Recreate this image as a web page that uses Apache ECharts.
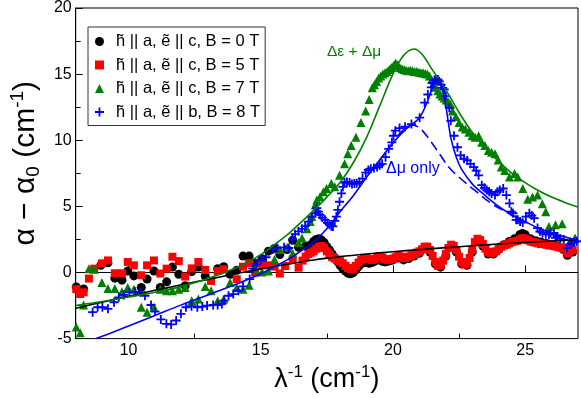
<!DOCTYPE html>
<html>
<head>
<meta charset="utf-8">
<script src="https://cdn.jsdelivr.net/npm/echarts@6/dist/echarts.min.js"></script>
<style>
  html, body { margin: 0; padding: 0; background: #fff; }
  #chart { width: 581px; height: 398px; }
</style>
</head>
<body>
<div id="chart"></div>
<script>
// tick positions on the wavenumber axis
const xMajorTicks = [10, 15, 20, 25];
const xMinorTicks = [12.5, 17.5, 22.5];

const seriesNames = [
  'h\u0303 || a, \u1ebd || c, B = 0 T',
  'h\u0303 || a, \u1ebd || c, B = 5 T',
  'h\u0303 || a, \u1ebd || c, B = 7 T',
  'h\u0303 || a, \u1ebd || b, B = 8 T',
];

// B = 0 T (black circles)
const field0 = [
  [8.02, -1.09], [8.3, -1.25], [8.95, 0.54], [9.22, 0.74], [9.48, -0.43], [9.75, -0.58],
  [9.97, 0.11], [10.2, -0.26], [10.48, -1.13], [10.7, -0.5], [10.96, 0.11], [11.2, -1.13],
  [11.44, -0.71], [11.66, 0.41], [11.9, -0.13], [12.14, -1.0], [12.39, 0.07], [12.64, 0.41],
  [12.9, -0.26], [13.37, 0.29], [13.6, 0.44], [13.84, -0.13], [14.09, 0.16], [14.33, 1.24],
  [14.56, 1.24], [14.79, 0.69], [15.05, 1.04], [15.29, 1.61], [15.52, 1.81], [15.72, 1.36],
  [16.0, 1.74], [16.21, 2.43], [16.43, 1.91], [16.7, 2.0],
  [16.9, 2.1], [17.0, 2.35], [17.1, 2.5], [17.2, 2.55], [17.3, 2.45], [17.4, 2.25], [17.5, 1.95],
  [17.6, 1.7], [17.7, 1.4], [17.8, 1.1], [17.9, 0.85], [18.0, 0.55], [18.1, 0.3], [18.2, 0.1],
  [18.3, -0.05], [18.4, -0.1], [18.5, 0.0], [18.6, 0.2], [18.7, 0.45], [18.8, 0.65], [18.9, 0.75],
  [19.0, 0.75], [19.1, 0.7], [19.2, 0.75], [19.3, 0.85], [19.4, 0.95], [19.5, 0.95], [19.6, 0.85],
  [19.7, 0.8], [19.8, 0.85], [19.9, 0.9], [20.0, 0.95], [20.2, 1.1], [20.4, 0.95], [20.6, 1.05],
  [20.8, 1.25], [21.0, 1.45], [21.2, 1.8], [21.4, 1.55], [21.6, 0.65], [21.8, 0.4], [22.0, 1.25],
  [22.2, 1.95], [22.4, 1.55], [22.6, 0.65], [22.8, 0.55], [23.0, 1.55], [23.2, 2.4], [23.4, 2.0],
  [23.6, 1.4], [23.8, 1.4], [24.0, 1.75], [24.2, 2.1], [24.4, 2.35], [24.6, 2.55], [24.8, 2.85],
  [24.9, 2.95], [25.0, 2.85], [25.2, 2.55], [25.4, 2.4], [25.6, 2.3], [25.8, 2.2], [26.0, 2.1],
  [26.2, 2.0], [26.4, 1.8], [26.6, 1.3], [26.8, 1.55],
];

// B = 5 T (red squares)
const field5 = [
  [8.02, -1.26], [8.17, -1.63], [8.3, -1.5], [8.5, -0.46], [8.7, 0.29], [8.99, 0.69], [9.22, 0.91],
  [9.48, -0.06], [9.75, -0.06], [9.97, 0.79], [10.2, 0.54], [10.48, -0.21], [10.7, 0.54],
  [10.96, 0.91], [11.2, -0.08], [11.44, 0.29], [11.66, 1.19], [11.9, 0.86], [12.14, -0.31],
  [12.39, 0.31], [12.64, 0.79], [12.9, 0.19], [13.12, -0.64], [13.37, 0.11], [13.6, 0.24],
  [14.09, -0.51], [14.33, 0.44], [14.56, 0.69], [14.79, -0.01], [15.05, 0.54], [15.29, 0.54],
  [15.52, 0.44], [15.72, -0.08], [15.92, 0.49], [16.21, 0.99], [16.43, 0.36], [16.58, 0.9],
  [16.7, 1.2], [16.8, 1.4], [16.9, 1.5], [17.0, 1.6], [17.1, 1.8], [17.2, 1.95], [17.3, 2.0],
  [17.4, 1.85], [17.5, 1.6], [17.6, 1.35], [17.7, 1.15], [17.8, 1.05], [17.9, 0.95], [18.0, 0.85],
  [18.1, 0.7], [18.2, 0.5], [18.3, 0.35], [18.4, 0.25], [18.5, 0.25], [18.6, 0.5], [18.7, 0.75],
  [18.8, 0.95], [18.9, 1.1], [19.0, 1.1], [19.1, 1.0], [19.2, 0.95], [19.3, 1.0], [19.4, 1.15],
  [19.5, 1.25], [19.6, 1.15], [19.7, 1.0], [19.8, 0.95], [19.9, 1.0], [20.0, 1.05], [20.1, 1.15],
  [20.2, 1.25], [20.3, 1.2], [20.4, 1.1], [20.5, 1.1], [20.6, 1.2], [20.7, 1.3], [20.8, 1.4],
  [20.9, 1.5], [21.0, 1.6], [21.1, 1.75], [21.2, 1.95], [21.3, 1.95], [21.4, 1.7], [21.5, 1.25],
  [21.6, 0.8], [21.7, 0.5], [21.8, 0.55], [21.9, 0.9], [22.0, 1.4], [22.1, 1.85], [22.2, 2.1],
  [22.3, 2.0], [22.4, 1.7], [22.5, 1.2], [22.6, 0.8], [22.7, 0.6], [22.8, 0.7], [22.9, 1.1],
  [23.0, 1.7], [23.1, 2.3], [23.2, 2.55], [23.3, 2.45], [23.4, 2.15], [23.5, 1.8], [23.6, 1.55],
  [23.7, 1.45], [23.8, 1.5], [23.9, 1.6], [24.0, 1.8], [24.1, 1.95], [24.2, 2.05], [24.3, 2.1],
  [24.4, 2.2], [24.5, 2.3], [24.6, 2.35], [24.7, 2.4], [24.8, 2.5], [24.9, 2.6], [25.0, 2.55],
  [25.1, 2.45], [25.2, 2.35], [25.3, 2.3], [25.4, 2.25], [25.5, 2.2], [25.6, 2.15], [25.7, 2.15],
  [25.8, 2.1], [25.9, 2.05], [26.0, 2.05], [26.1, 2.0], [26.2, 1.95], [26.3, 1.9], [26.4, 1.85],
  [26.5, 1.7], [26.6, 1.45], [26.7, 1.6], [26.8, 1.7],
];

// B = 7 T (green triangles)
const field7 = [
  [8.02, -4.13], [8.17, -4.55], [8.3, -2.46], [8.5, 0.29], [8.7, 0.24], [8.99, -0.76], [9.22, -1.21],
  [9.48, -1.21], [9.75, -1.46], [9.97, -1.13], [10.2, -1.26], [10.48, -2.63], [10.7, -3.0],
  [10.96, -2.63], [11.2, -1.26], [11.44, -1.38], [11.66, -1.38], [11.9, -1.26], [12.14, -1.13],
  [12.39, -2.13], [12.64, -2.0], [12.9, -1.06], [13.12, -1.38], [13.37, -2.13], [13.6, -2.0],
  [13.84, -0.76], [14.09, -1.13], [14.33, -1.26], [14.56, -0.96], [14.79, 0.29], [15.05, 0.04],
  [15.29, 0.11], [15.52, 0.99], [15.72, 1.74], [16.0, 1.91], [16.21, 1.44], [16.43, 2.24],
  [16.56, 2.61], [16.75, 3.3], [16.87, 3.85], [16.93, 4.23], [17.06, 5.1], [17.12, 5.48],
  [17.24, 5.73], [17.37, 6.1], [17.49, 6.35], [17.67, 6.73], [17.8, 6.48], [17.98, 7.35],
  [18.17, 8.22], [18.29, 8.97], [18.42, 9.6], [18.6, 10.22], [18.79, 11.34], [18.97, 12.22],
  [19.1, 13.09], [19.22, 13.96], [19.3, 14.2], [19.38, 14.45], [19.46, 14.7], [19.54, 14.85],
  [19.62, 15.0], [19.7, 15.1], [19.78, 15.2], [19.86, 15.35], [19.94, 15.5], [20.02, 15.65],
  [20.1, 15.85], [20.18, 15.7], [20.26, 15.5], [20.34, 15.4], [20.42, 15.35], [20.5, 15.3],
  [20.58, 15.25], [20.66, 15.3], [20.74, 15.25], [20.82, 15.2], [20.9, 15.2], [20.98, 15.15],
  [21.06, 15.1], [21.14, 15.1], [21.22, 15.05], [21.3, 15.0], [21.38, 14.85], [21.46, 14.6],
  [21.54, 14.3], [21.62, 14.0], [21.7, 13.75], [21.78, 13.5], [21.86, 13.35], [21.94, 13.2],
  [22.02, 13.05], [22.1, 12.9], [22.18, 12.7], [22.25, 12.22], [22.38, 11.8], [22.5, 11.34],
  [22.62, 11.0], [22.74, 10.85], [22.87, 10.6], [22.99, 10.34], [23.11, 10.22], [23.24, 10.34],
  [23.36, 9.84], [23.48, 9.6], [23.61, 9.22], [23.73, 9.1], [23.86, 8.97], [23.98, 8.5],
  [24.1, 7.97], [24.23, 7.72], [24.41, 7.22], [24.6, 7.48], [24.72, 7.22], [24.91, 6.35],
  [25.1, 5.53], [25.28, 5.7], [25.47, 5.85], [25.65, 5.2], [25.78, 4.6], [25.9, 3.48],
  [26.15, 3.61], [26.4, 3.68], [26.7, 2.36], [26.89, 2.61],
];

// B = 8 T, e || b (blue pluses)
const field8 = [
  [8.64, -3.0], [8.83, -2.63], [9.01, -2.63], [9.22, -2.75], [9.45, -2.25], [9.63, -1.88],
  [9.82, -1.7], [10.03, -1.5], [10.25, -1.46], [10.44, -1.5], [10.62, -1.76], [10.85, -2.46],
  [11.0, -2.96], [11.22, -3.55], [11.43, -3.88], [11.61, -3.93], [11.8, -3.63], [11.98, -3.13],
  [12.17, -2.63], [12.38, -2.55], [12.6, -2.63], [12.79, -2.58], [12.97, -2.5], [13.2, -2.46],
  [13.37, -2.46], [13.53, -2.38], [13.61, -2.13], [13.78, -1.76], [13.96, -1.63], [14.15, -1.38],
  [14.33, -1.05], [14.58, -0.5], [14.7, 0.29], [14.83, 0.61], [15.01, 0.94], [15.2, 1.15],
  [15.45, 1.74], [15.63, 1.86], [15.88, 1.9], [16.06, 1.85], [16.2, 2.5], [16.3, 2.9],
  [16.43, 3.11], [16.56, 3.3], [16.68, 3.5], [16.81, 3.85], [16.93, 4.23], [17.06, 4.48],
  [17.12, 4.86], [17.18, 4.6], [17.24, 4.36], [17.33, 4.15], [17.43, 3.98], [17.52, 3.75],
  [17.6, 3.61], [17.67, 3.5], [17.73, 3.48], [17.8, 3.9], [17.86, 4.23], [17.92, 4.73],
  [17.98, 5.35], [18.05, 5.98], [18.11, 6.48], [18.17, 6.8], [18.26, 6.85], [18.36, 6.8],
  [18.45, 6.7], [18.54, 6.73], [18.63, 6.75], [18.73, 6.85], [18.85, 7.1], [18.97, 7.55],
  [19.07, 7.75], [19.16, 7.85], [19.28, 7.9], [19.4, 7.97], [19.5, 8.1], [19.59, 8.22],
  [19.72, 8.72], [19.84, 9.35], [19.96, 9.84], [20.02, 10.34], [20.09, 10.72], [20.25, 10.92],
  [20.46, 11.02], [20.7, 11.22], [21.01, 11.71], [21.2, 12.84], [21.32, 13.46], [21.45, 14.0],
  [21.51, 14.33], [21.57, 14.55], [21.63, 14.59], [21.7, 14.6], [21.75, 14.46], [21.82, 14.2],
  [21.88, 13.96], [21.94, 13.84], [22.0, 13.34], [22.13, 12.46], [22.19, 11.47], [22.31, 10.34],
  [22.44, 9.47], [22.56, 8.85], [22.69, 8.6], [22.81, 8.47], [22.93, 8.22], [23.06, 7.97],
  [23.15, 7.7], [23.24, 7.35], [23.36, 6.6], [23.46, 6.4], [23.55, 6.23], [23.64, 6.1],
  [23.73, 5.98], [23.86, 5.85], [23.95, 6.1], [24.04, 6.23], [24.17, 6.35], [24.29, 5.85],
  [24.41, 5.23], [24.48, 4.6], [24.54, 4.48], [24.66, 3.98], [24.72, 3.98], [24.81, 3.85],
  [24.91, 3.78], [25.03, 4.23], [25.16, 4.48], [25.25, 4.3], [25.34, 4.11], [25.47, 3.36],
  [25.56, 3.1], [25.66, 2.99], [25.78, 2.9], [25.9, 2.86], [25.96, 2.99], [26.09, 2.99],
  [26.15, 2.61], [26.21, 2.73], [26.33, 2.55], [26.46, 2.49], [26.58, 1.86], [26.68, 2.1],
  [26.77, 2.24], [26.86, 2.3], [26.95, 2.36],
];

// model curves
const fitBackground = [
  [8, -2.7], [9, -2.25], [10, -1.8], [11, -1.35], [12, -0.93], [13, -0.52], [14, -0.12], [15, 0.27],
  [16, 0.62], [17, 0.95], [18, 1.2], [19, 1.4], [20, 1.57], [21, 1.73], [22, 1.88], [23, 2.02],
  [24, 2.15], [25, 2.27], [26, 2.38], [27, 2.48],
];
const fitEpsMu = [
  [8, -2.5], [9, -2.2], [10, -1.85], [11, -1.5], [12, -1.05], [13, -0.45], [14, 0.3], [15, 1.35],
  [16, 2.85], [16.5, 3.75], [17, 4.7], [17.5, 5.7], [18, 6.8], [18.5, 8.3], [19, 10.2], [19.5, 12.6],
  [20, 15.0], [20.4, 16.4], [20.8, 16.9], [21.1, 16.5], [21.5, 15.3], [22, 13.8], [22.5, 12.1],
  [23, 10.6], [23.5, 9.4], [24, 8.4], [24.5, 7.5], [25, 6.8], [25.5, 6.2], [26, 5.7], [26.5, 5.3],
  [27, 4.95],
];
const fitBlue = [
  [8.77, -5.0], [9.5, -4.45], [10, -4.05], [11, -3.25], [12, -2.45], [13, -1.7], [14, -0.95],
  [15, -0.1], [16, 0.95], [16.5, 1.6], [17, 2.3], [17.5, 3.3], [18, 4.6], [18.5, 5.8], [19, 7.2],
  [19.5, 8.5], [20, 9.8], [20.5, 10.85], [21, 11.7], [21.3, 12.9], [21.5, 14.0], [21.7, 14.6],
  [21.85, 14.1], [22.0, 12.6], [22.2, 10.1], [22.4, 8.7], [22.6, 7.8], [23, 6.7], [23.5, 5.8],
  [24, 5.0], [24.5, 4.35], [25, 3.85], [25.5, 3.35], [26, 3.0], [26.5, 2.7], [27, 2.4],
];
const fitMuOnly = [
  [19.5, 8.5], [20, 9.8], [20.3, 10.6], [20.7, 11.15], [21.0, 10.95], [21.4, 10.0], [21.75, 9.0],
  [22.1, 8.0], [22.5, 7.2], [23.1, 6.2], [23.7, 5.25], [24.3, 4.55], [24.8, 4.05],
];

const FONT = '"Liberation Sans", Arial, sans-serif';
const PLUS = 'path://M4,0h2v4h4v2h-4v4h-2v-4h-4v-2h4z';

const chart = echarts.init(document.getElementById('chart'), null, { renderer: 'canvas' });

const scatter = (name, data, symbol, size, color) => ({
  name,
  type: 'scatter',
  data,
  symbol,
  symbolSize: size,
  itemStyle: { color, opacity: 1 },
  silent: true,
  z: 2,
});

const curve = (data, color, type) => ({
  type: 'line',
  data,
  showSymbol: false,
  smooth: 0.35,
  lineStyle: { color, width: 1.6, type: type || 'solid' },
  silent: true,
  z: 3,
});

const richText = (main, small) => ({
  m: { fontSize: main, lineHeight: main + 5, color: '#000', fontFamily: FONT, verticalAlign: 'middle' },
  s: { fontSize: small, lineHeight: small, color: '#000', fontFamily: FONT, verticalAlign: 'top' },
  b: { fontSize: small, lineHeight: small, color: '#000', fontFamily: FONT, verticalAlign: 'bottom' },
});

chart.setOption({
  animation: false,
  backgroundColor: '#fff',
  textStyle: { fontFamily: FONT },
  grid: {
    left: 66, right: 3, top: 6, bottom: 58,
    show: true, borderColor: '#000', borderWidth: 1,
  },
  legend: {
    data: seriesNames,
    orient: 'vertical',
    left: 88,
    top: 27,
    padding: [6, 5, 5, 7],
    itemGap: 6.5,
    itemWidth: 9,
    itemHeight: 9,
    borderColor: '#333',
    borderWidth: 1,
    borderRadius: 0,
    selectedMode: false,
    textStyle: { fontSize: 16.5, color: '#000', fontFamily: FONT, padding: [0, 0, 0, 7] },
  },
  xAxis: [
    {
      type: 'value',
      min: 8,
      max: 27,
      name: '{m|\u03bb}{s|-1}{m| (cm}{s|-1}{m|)}',
      nameLocation: 'middle',
      nameGap: 23,
      nameTextStyle: { rich: richText(27, 17) },
      axisLine: { lineStyle: { color: '#000', width: 1 } },
      axisTick: { inside: true, length: 7, customValues: xMajorTicks, lineStyle: { color: '#000' } },
      axisLabel: { customValues: xMajorTicks, fontSize: 16, color: '#000', margin: 4, fontFamily: FONT },
      splitLine: { show: false },
    },
    {
      type: 'value',
      min: 8,
      max: 27,
      position: 'bottom',
      axisLine: { show: false },
      axisTick: { inside: true, length: 5, customValues: xMinorTicks, lineStyle: { color: '#000' } },
      axisLabel: { show: false },
      splitLine: { show: false },
    },
  ],
  yAxis: {
    type: 'value',
    min: -5,
    max: 20,
    interval: 5,
    name: '{m|\u03b1 \u2212 \u03b1}{b|0}{m| (cm}{s|-1}{m|)}',
    nameLocation: 'middle',
    nameRotate: 90,
    nameGap: 22,
    nameTextStyle: { padding: [0, 0, 0, 20], rich: richText(30, 19) },
    axisLine: { lineStyle: { color: '#000', width: 1 } },
    axisTick: { inside: true, length: 7, lineStyle: { color: '#000' } },
    minorTick: { show: true, splitNumber: 2, length: 5, lineStyle: { color: '#000' } },
    axisLabel: { fontSize: 16, color: '#000', margin: 4, fontFamily: FONT },
    splitLine: { show: false },
  },
  graphic: [
    {
      type: 'text', left: 327, top: 44, silent: true,
      style: { text: '\u0394\u03b5 + \u0394\u03bc', fill: '#008000', fontSize: 15.5, fontFamily: FONT },
    },
    {
      type: 'text', left: 386, top: 161, silent: true,
      style: { text: '\u0394\u03bc only', fill: '#0000ff', fontSize: 16, fontFamily: FONT },
    },
  ],
  series: [
    scatter(seriesNames[0], field0, 'circle', 9, '#000'),
    scatter(seriesNames[1], field5, 'rect', 8, '#ff0000'),
    scatter(seriesNames[2], field7, 'triangle', 9, '#008000'),
    scatter(seriesNames[3], field8, PLUS, 9, '#0000ff'),
    curve(fitBackground, '#000'),
    curve(fitEpsMu, '#008000'),
    curve(fitBlue, '#0000ff'),
    curve(fitMuOnly, '#0000ff', [10, 5]),
  ],
});
</script>
</body>
</html>
